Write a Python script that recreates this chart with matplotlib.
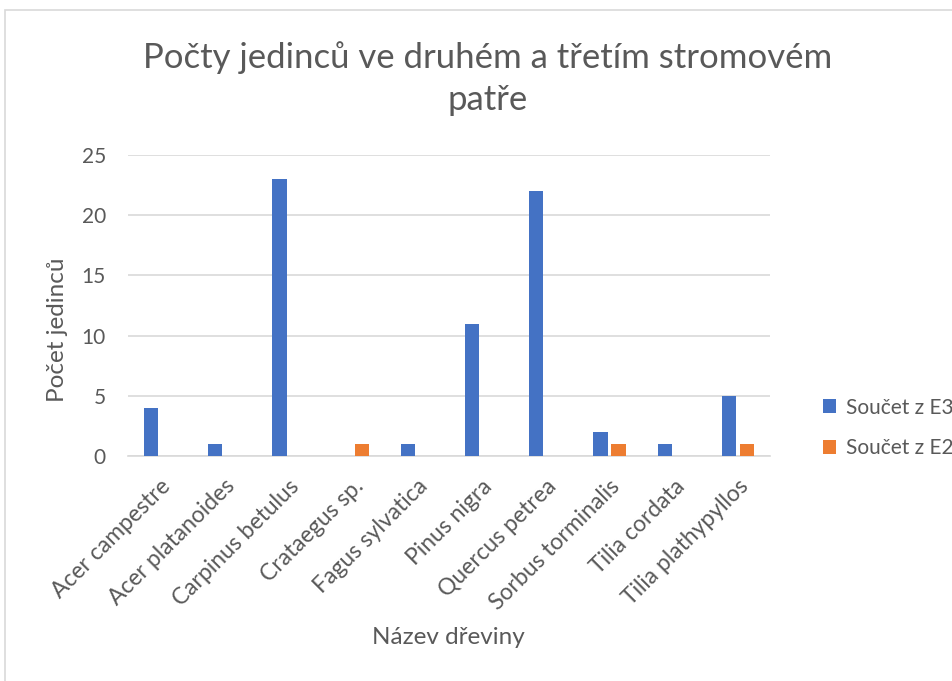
import matplotlib
matplotlib.use("Agg")
import matplotlib.pyplot as plt
import numpy as np
from matplotlib.patches import Rectangle

categories = ["Acer campestre", "Acer platanoides", "Carpinus betulus", "Crataegus sp.",
              "Fagus sylvatica", "Pinus nigra", "Quercus petrea", "Sorbus torminalis",
              "Tilia cordata", "Tilia plathypyllos"]
e3 = [4, 1, 23, 0, 1, 11, 22, 2, 1, 5]
e2 = [0, 0, 0, 1, 0, 0, 0, 1, 0, 1]
series_names = ["Součet z E3", "Součet z E2"]
yticks = [0, 5, 10, 15, 20, 25]

plt.rcParams['font.family'] = ['Lato', 'DejaVu Sans']
txt = '#595959'

fig = plt.figure(figsize=(9.52, 6.81), dpi=100)
ax = fig.add_axes([128/952, 1-456/681, (770-128)/952, (456-155)/681])

x = np.arange(len(categories))
w = 0.22
off = 0.14
ax.bar(x - off, e3, width=w, color='#4472C4', label=series_names[0], zorder=3)
ax.bar(x + off, e2, width=w, color='#ED7D31', label=series_names[1], zorder=3)

ax.set_xlim(-0.5, len(categories) - 0.5)
ax.set_ylim(0, 25)
ax.set_yticks(yticks)
ax.yaxis.grid(True, color='#d9d9d9', linewidth=1.2, zorder=0)
for s in ['top', 'right', 'left']:
    ax.spines[s].set_visible(False)
ax.spines['bottom'].set_color('#d9d9d9')
ax.spines['bottom'].set_linewidth(1.2)
ax.tick_params(axis='both', length=0, colors=txt)
ax.tick_params(axis='y', pad=16, labelsize=15)
ax.set_xticks(x)
ax.set_xticklabels(categories, rotation=45, ha='right', va='top', rotation_mode='anchor')
ax.tick_params(axis='x', pad=14, labelsize=16.5)

ax.set_ylabel("Počet jedinců", color=txt, fontsize=17.5)
ax.yaxis.set_label_coords(-(128-58)/642, (456-330)/301)
ax.yaxis.label.set_va('center')
ax.set_xlabel("Název dřeviny", color=txt, fontsize=17.5)
ax.xaxis.set_label_coords((448-128)/642, -(637-456)/301)
ax.xaxis.label.set_va('center')

fig.text(488/952, 1-58/681, "Počty jedinců ve druhém a třetím stromovém", ha='center', va='center',
         fontsize=25, color=txt)
fig.text(488/952, 1-100/681, "patře", ha='center', va='center', fontsize=25, color=txt)

leg = ax.legend(loc='center left', bbox_to_anchor=(804/952, 1-428/681), bbox_transform=fig.transFigure,
                frameon=False, fontsize=15, labelcolor=txt, handlelength=0.65, handleheight=0.65,
                handletextpad=0.45, labelspacing=1.0)

fig.patches.append(Rectangle((5/952, -0.05), 1.1, 1 - 10/681 + 0.05, transform=fig.transFigure,
                             fill=False, edgecolor='#d9d9d9', linewidth=1.2, figure=fig))

fig.savefig("out.png", dpi=100, facecolor='white')
